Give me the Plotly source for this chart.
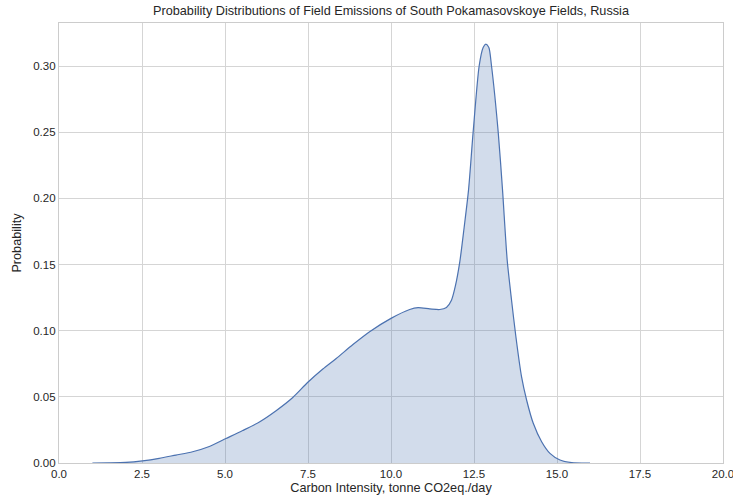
import plotly.graph_objects as go

# KDE curve
x_read = [1.0, 1.5, 2.0, 2.5, 3.0, 3.5, 4.0, 4.5, 5.0, 5.5, 6.0, 6.5, 7.0, 7.45, 7.9, 8.3,
          8.8, 9.3, 9.94, 10.5, 10.75, 11.1, 11.4, 11.6, 11.75, 11.87, 12.0, 12.13, 12.26,
          12.4, 12.58, 12.7, 12.78, 12.87, 12.95, 13.15, 13.28, 13.42, 13.55, 13.68, 13.85,
          14.0, 14.2, 14.45, 14.7, 15.0, 15.35, 15.9]
x_vals = [round(v * 1.006, 3) for v in x_read]  # small scale correction of the reading
density = [0.0, 0.0001, 0.0004, 0.0016, 0.0035, 0.006, 0.0085, 0.0125, 0.0185, 0.0245,
           0.031, 0.0395, 0.0495, 0.0610, 0.0710, 0.0790,
           0.0895, 0.0992, 0.1093, 0.116, 0.1174, 0.1165, 0.1160, 0.1175, 0.1230, 0.1340,
           0.152, 0.178, 0.206, 0.250, 0.300, 0.3140, 0.3165, 0.3140, 0.300, 0.25, 0.206,
           0.153, 0.123, 0.0954, 0.065, 0.0476, 0.030, 0.0161, 0.0073, 0.0023, 0.0003, 0.0]

x_ticks = [0, 2.5, 5, 7.5, 10, 12.5, 15, 17.5, 20]
y_ticks = [0, 0.05, 0.10, 0.15, 0.20, 0.25, 0.30]

fig = go.Figure()
fig.add_trace(go.Scatter(
    x=x_vals, y=density, mode="lines",
    line=dict(color="#4c72b0", width=1.2, shape="spline", smoothing=0.7),
    fill="tozeroy", fillcolor="rgba(76,114,176,0.25)",
    hoverinfo="skip", showlegend=False,
))

axis_common = dict(
    showgrid=True, gridcolor="#d5d5d5", gridwidth=1,
    showline=True, linecolor="#cccccc", linewidth=1.2, mirror=True,
    zeroline=False, ticks="", tickfont=dict(size=11.5, color="#262626"),
    automargin=False,
)

fig.update_layout(
    width=733, height=501,
    margin=dict(l=59, r=10, t=23, b=38),
    paper_bgcolor="white", plot_bgcolor="white",
    font=dict(family="Liberation Sans, Arial, sans-serif", color="#262626"),
    title=dict(text="Probability Distributions of Field Emissions of South Pokamasovskoye Fields, Russia",
               xref="paper", x=0.5, xanchor="center",
               yref="container", y=1 - 11 / 501, yanchor="middle",
               font=dict(size=12.7, color="#262626")),
    xaxis=dict(range=[0, 20], tickvals=x_ticks, tickformat=".1f", ticklabeloverflow="allow",
               title=dict(text="Carbon Intensity, tonne CO2eq./day", font=dict(size=12.7), standoff=4),
               **axis_common),
    yaxis=dict(range=[0, 0.3325], tickvals=y_ticks, tickformat=".2f",
               title=dict(text="Probability", font=dict(size=12.7), standoff=8),
               **axis_common),
)

fig.write_html("out.html", config={"displayModeBar": False},
               post_script="document.body.style.margin='0';")
